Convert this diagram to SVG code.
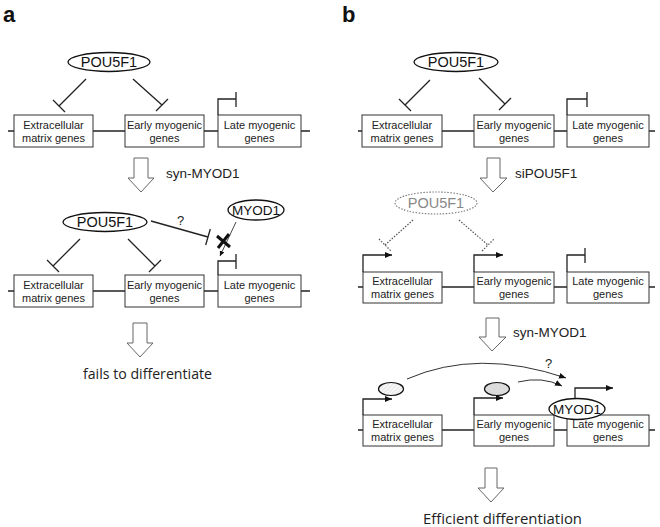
<svg xmlns="http://www.w3.org/2000/svg" width="660" height="527" viewBox="0 0 660 527">
<defs>
<style>
.t{font-family:"Liberation Sans",Arial,sans-serif;fill:#222}
.lab{font-family:"Liberation Sans",Arial,sans-serif;font-weight:bold;font-size:22px;fill:#111}
.box{fill:#fff;stroke:#333;stroke-width:1}
.gt{font-family:"Liberation Sans",Arial,sans-serif;font-size:11px;fill:#222;text-anchor:middle}
.tf{font-family:"Liberation Sans",Arial,sans-serif;font-size:14.5px;fill:#111;text-anchor:middle}
.ell{fill:#fff;stroke:#111;stroke-width:1.3}
.ln{fill:none;stroke:#222;stroke-width:1.3}
.dln{fill:none;stroke:#555;stroke-width:1.2;stroke-dasharray:1.5 1.5}
.bb{fill:none;stroke:#222;stroke-width:1.3}
.hol{fill:#fff;stroke:#666;stroke-width:1}
.cap{font-family:"Open Sans","Noto Sans",sans-serif;fill:#222}
</style>
<marker id="ah" markerWidth="8" markerHeight="8" refX="7" refY="4" orient="auto" markerUnits="userSpaceOnUse">
<path d="M0,1 L7,4 L0,7 Z" fill="#111"/>
</marker>
<marker id="ahs" markerWidth="6" markerHeight="6" refX="5" refY="3" orient="auto" markerUnits="userSpaceOnUse">
<path d="M0,0.5 L5,3 L0,5.5 Z" fill="#111"/>
</marker>
<pattern id="hatch" width="3" height="3" patternUnits="userSpaceOnUse" patternTransform="rotate(45)">
<rect width="3" height="3" fill="#f7f7f7"/>
<line x1="0" y1="0" x2="0" y2="3" stroke="#cfcfcf" stroke-width="0.8"/>
</pattern>
</defs>
<rect width="660" height="527" fill="#fff"/>

<text class="lab" x="3" y="22">a</text>
<text class="lab" x="342" y="22">b</text>

<!-- backbones -->
<g id="backbones">
<line class="bb" x1="8" y1="131" x2="310" y2="131"/>
<line class="bb" x1="8" y1="291" x2="310" y2="291"/>
<line class="bb" x1="358" y1="131" x2="655" y2="131"/>
<line class="bb" x1="358" y1="287" x2="655" y2="287"/>
<line class="bb" x1="358" y1="430" x2="655" y2="430"/>
</g>

<!-- Panel a row 1 -->
<g id="a1-pou5f1"><ellipse class="ell" cx="109" cy="62" rx="41" ry="9.5"/><text class="tf" x="109" y="67">POU5F1</text></g>
<g id="a1-ecm"><rect class="box" x="14" y="115" width="79" height="32"/><text class="gt" x="53.5" y="128.5">Extracellular</text><text class="gt" x="53.5" y="141.5">matrix genes</text></g>
<g id="a1-early"><rect class="box" x="125" y="115" width="79" height="32"/><text class="gt" x="164.5" y="128.5">Early myogenic</text><text class="gt" x="164.5" y="141.5">genes</text></g>
<g id="a1-late"><rect class="box" x="218" y="115" width="83" height="32"/><text class="gt" x="259.5" y="128.5">Late myogenic</text><text class="gt" x="259.5" y="141.5">genes</text></g>

<!-- Panel a row 2 -->
<g id="a2-pou5f1"><ellipse class="ell" cx="105" cy="222" rx="42" ry="9.5"/><text class="tf" x="105" y="227">POU5F1</text></g>
<g id="a2-myod1"><ellipse class="ell" cx="256" cy="210" rx="28" ry="10"/><text class="tf" x="256" y="215" style="font-size:13.5px">MYOD1</text></g>
<g id="a2-ecm"><rect class="box" x="14" y="275" width="79" height="32"/><text class="gt" x="53.5" y="288.5">Extracellular</text><text class="gt" x="53.5" y="301.5">matrix genes</text></g>
<g id="a2-early"><rect class="box" x="125" y="275" width="79" height="32"/><text class="gt" x="164.5" y="288.5">Early myogenic</text><text class="gt" x="164.5" y="301.5">genes</text></g>
<g id="a2-late"><rect class="box" x="218" y="275" width="83" height="32"/><text class="gt" x="259.5" y="288.5">Late myogenic</text><text class="gt" x="259.5" y="301.5">genes</text></g>
<g id="a-result"><text class="cap" x="83" y="379" font-size="14.5" textLength="129" lengthAdjust="spacingAndGlyphs">fails to differentiate</text></g>

<!-- Panel b row 1 -->
<g id="b1-pou5f1"><ellipse class="ell" cx="456" cy="62" rx="42" ry="9.5"/><text class="tf" x="456" y="67">POU5F1</text></g>
<g id="b1-ecm"><rect class="box" x="362" y="115" width="80" height="32"/><text class="gt" x="402" y="128.5">Extracellular</text><text class="gt" x="402" y="141.5">matrix genes</text></g>
<g id="b1-early"><rect class="box" x="474" y="115" width="80" height="32"/><text class="gt" x="514" y="128.5">Early myogenic</text><text class="gt" x="514" y="141.5">genes</text></g>
<g id="b1-late"><rect class="box" x="567" y="115" width="82" height="32"/><text class="gt" x="608" y="128.5">Late myogenic</text><text class="gt" x="608" y="141.5">genes</text></g>

<!-- Panel b row 2 -->
<g id="b2-pou5f1"><ellipse cx="436" cy="203" rx="41" ry="11" fill="#fff" stroke="#777" stroke-width="1.1" stroke-dasharray="1.5 1.5"/><text class="tf" x="436" y="208" style="fill:#888">POU5F1</text></g>
<g id="b2-ecm"><rect class="box" x="363" y="272" width="79" height="31"/><text class="gt" x="402.5" y="285">Extracellular</text><text class="gt" x="402.5" y="298">matrix genes</text></g>
<g id="b2-early"><rect class="box" x="474" y="272" width="80" height="31"/><text class="gt" x="514" y="285">Early myogenic</text><text class="gt" x="514" y="298">genes</text></g>
<g id="b2-late"><rect class="box" x="567" y="272" width="82" height="31"/><text class="gt" x="608" y="285">Late myogenic</text><text class="gt" x="608" y="298">genes</text></g>

<!-- Panel b row 3 -->
<g id="b3-ecm"><rect class="box" x="363" y="415" width="79" height="31"/><text class="gt" x="402.5" y="428">Extracellular</text><text class="gt" x="402.5" y="441">matrix genes</text></g>
<g id="b3-early"><rect class="box" x="474" y="415" width="80" height="31"/><text class="gt" x="514" y="428">Early myogenic</text><text class="gt" x="514" y="441">genes</text></g>
<g id="b3-late"><rect class="box" x="567" y="415" width="82" height="31"/><text class="gt" x="608" y="428">Late myogenic</text><text class="gt" x="608" y="441">genes</text></g>
<g id="b3-oval-ecm"><ellipse cx="391" cy="389" rx="12.5" ry="6.5" fill="url(#hatch)" stroke="#111" stroke-width="1.2"/></g>
<g id="b3-oval-early"><ellipse cx="497" cy="389" rx="12.5" ry="6.5" fill="#dcdcdc" stroke="#111" stroke-width="1.2"/></g>
<g id="b-result"><text class="cap" x="423" y="524" font-size="15" textLength="159" lengthAdjust="spacingAndGlyphs">Efficient differentiation</text></g>

<!-- connectors -->
<g id="connectors">
<path class="ln" d="M86,79 L59,106 M53,100 L65,112"/>
<path class="ln" d="M133,79 L162,105 M156,111 L168,99"/>
<path class="ln" d="M218,115 V99 H236 M236,92 V107"/>
<polygon class="hol" points="134,158 148,158 148,178 154,178 141,192 128,178 134,178"/>
<text class="t" x="166" y="178" font-size="13.5">syn-MYOD1</text>
<polygon class="hol" points="133,323 147,323 147,343 153,343 140,357 127,343 133,343"/>
<polygon class="hol" points="487,158 500,158 500,178 507,178 493,192 480,178 487,178"/>
<text class="t" x="515" y="178" font-size="13.5">siPOU5F1</text>
<polygon class="hol" points="486,318 499,318 499,337 506,337 492,351 479,337 486,337"/>
<text class="t" x="513" y="337" font-size="13.5">syn-MYOD1</text>
<polygon class="hol" points="485,468 497,468 497,488 504,488 491,502 478,488 485,488"/>
<path class="ln" d="M80,239 L53,266 M47,260 L59,272"/>
<path class="ln" d="M128,239 L155,266 M149,272 L161,260"/>
<path class="ln" d="M218,275 V261 H236 M236,254 V269"/>
<path class="ln" d="M151,221 L208,237 M210.3,229 L205.7,245"/>
<text class="t" x="177" y="225" font-size="13">?</text>
<path d="M236,222 L220,256" fill="none" stroke="#333" stroke-width="0.9" marker-end="url(#ahs)"/>
<path d="M217,236 L230,247 M229,234 L218,248" fill="none" stroke="#111" stroke-width="3"/>
<path class="ln" d="M430,80 L405,105 M399,99 L411,111"/>
<path class="ln" d="M479,78 L505,104 M499,110 L511,98"/>
<path class="ln" d="M567,115 V99 H587 M587,92 V107"/>
<path class="dln" d="M413,220 L385,245 M379,239 L391,251"/>
<path class="dln" d="M459,220 L488,245 M482,251 L494,239"/>
<path class="ln" d="M363,272 V255 H392" marker-end="url(#ah)"/>
<path class="ln" d="M474,272 V255 H503" marker-end="url(#ah)"/>
<path class="ln" d="M567,272 V255 H585 M585,248 V263"/>
<path class="ln" d="M363,415 V399 H392" marker-end="url(#ah)"/>
<path class="ln" d="M474,415 V398 H503" marker-end="url(#ah)"/>
<path d="M407,379 Q478,348 566,378" fill="none" stroke="#333" stroke-width="1" marker-end="url(#ah)"/>
<text class="t" x="545" y="368" font-size="13">?</text>
<path d="M518,382 Q542,376 562,386" fill="none" stroke="#333" stroke-width="1" marker-end="url(#ah)"/>
<path class="ln" d="M575,399 V388 H613" marker-end="url(#ah)"/>
</g>
<g id="b3-myod1"><ellipse class="ell" cx="577" cy="409" rx="28" ry="10.5"/><text class="tf" x="577" y="414" style="font-size:13.5px">MYOD1</text></g>
</svg>
